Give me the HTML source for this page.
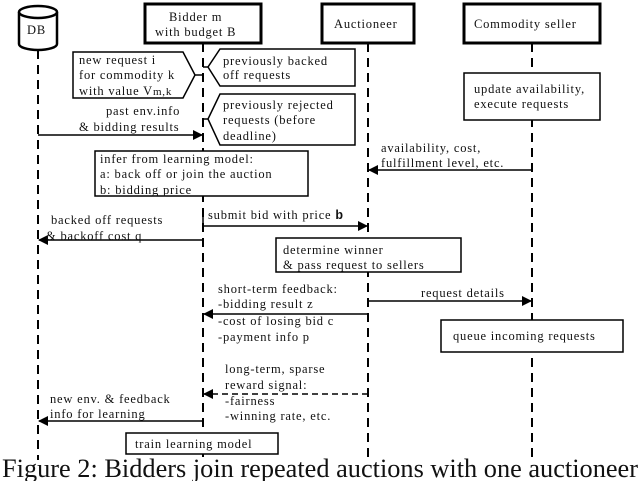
<!DOCTYPE html>
<html><head><meta charset="utf-8"><style>
body{margin:0;background:#fff}
svg text{font-family:"Liberation Serif",serif;font-size:12.5px;fill:#111;letter-spacing:0.8px}
</style></head><body>
<svg width="640" height="481" viewBox="0 0 640 481" xmlns="http://www.w3.org/2000/svg">
<defs><marker id="a" markerWidth="10" markerHeight="10" refX="9" refY="5" orient="auto" markerUnits="userSpaceOnUse"><path d="M0,0 L10,5 L0,10z" fill="#000"/></marker></defs>
<g stroke="#000" stroke-width="2" stroke-dasharray="9,6" fill="none">
<line x1="38" y1="50" x2="38" y2="460"/>
<line x1="203" y1="43" x2="203" y2="460"/>
<line x1="368" y1="43" x2="368" y2="460"/>
<line x1="532" y1="43" x2="532" y2="460"/>
</g>
<g fill="#fff" stroke="#000">
<path d="M19,12 L19,44 A19,6 0 0 0 57,44 L57,12" stroke-width="2.5"/>
<ellipse cx="38" cy="12" rx="19" ry="6" stroke-width="2.5"/>
<rect x="145" y="4" width="116" height="39" stroke-width="3"/>
<rect x="322" y="4" width="92" height="39" stroke-width="3"/>
<rect x="464" y="4" width="136" height="39" stroke-width="3"/>
<path d="M73,52 L183,52 L195,75 L183,98 L73,98z" stroke-width="1.5"/>
<path d="M220,49 L355,49 L355,86 L220,86 L208,67z" stroke-width="1.5"/>
<path d="M220,94 L355,94 L355,145 L220,145 L208,119z" stroke-width="1.5"/>
<rect x="464" y="73" width="136" height="47" stroke-width="1.5"/>
<rect x="95" y="151" width="213" height="45" stroke-width="1.5"/>
<rect x="276" y="238" width="185" height="34" stroke-width="1.5"/>
<rect x="441" y="320" width="182" height="32" stroke-width="1.5"/>
<rect x="126" y="433" width="152" height="21" stroke-width="1.5"/>
</g>
<g stroke="#000" stroke-width="1.5" fill="none">
<line x1="195" y1="75" x2="203" y2="75"/><line x1="203" y1="67" x2="208" y2="67"/>
<line x1="203" y1="119" x2="208" y2="119"/>
<line x1="38" y1="135" x2="202" y2="135" marker-end="url(#a)"/>
<line x1="532" y1="170" x2="369" y2="170" marker-end="url(#a)"/>
<path d="M203,210 L203,226 L367,226" marker-end="url(#a)"/>
<line x1="203" y1="240" x2="39" y2="240" marker-end="url(#a)"/>
<path d="M368,306 L368,301 L531,301" marker-end="url(#a)"/>
<line x1="368" y1="314" x2="204" y2="314" marker-end="url(#a)"/>
<line x1="368" y1="394" x2="204" y2="394" stroke-dasharray="6,4" marker-end="url(#a)"/>
<path d="M203,427 L203,421 L39,421" marker-end="url(#a)"/>
</g>
<text x="27" y="34">DB</text>
<text x="169" y="21">Bidder m</text>
<text x="155" y="36">with budget B</text>
<text x="334" y="28">Auctioneer</text>
<text x="474" y="28">Commodity seller</text>
<text x="79" y="64">new request i</text>
<text x="79" y="79">for commodity k</text>
<text x="79" y="95">with value V<tspan font-size="11">m,k</tspan></text>
<text x="223" y="65">previously backed</text>
<text x="223" y="79">off requests</text>
<text x="223" y="109">previously rejected</text>
<text x="223" y="124">requests (before</text>
<text x="223" y="140">deadline)</text>
<text x="106" y="115">past env.info</text>
<text x="79" y="131">&amp; bidding results</text>
<text x="474" y="93">update availability,</text>
<text x="474" y="108">execute requests</text>
<text x="381" y="152">availability, cost,</text>
<text x="381" y="167">fulfillment level, etc.</text>
<text x="100" y="163">infer from learning model:</text>
<text x="100" y="178">a: back off or join the auction</text>
<text x="100" y="194">b: bidding price</text>
<text x="208" y="219">submit bid with  price <tspan font-family="Liberation Sans" font-weight="bold">b</tspan></text>
<text x="51" y="224">backed off requests</text>
<text x="46" y="240">&amp; backoff cost q</text>
<text x="283" y="254">determine winner</text>
<text x="283" y="269">&amp; pass request to sellers</text>
<text x="218" y="293">short-term feedback:</text>
<text x="218" y="308">-bidding result z</text>
<text x="218" y="325">-cost of losing bid c</text>
<text x="218" y="341">-payment info p</text>
<text x="421" y="297">request details</text>
<text x="453" y="340">queue incoming requests</text>
<text x="225" y="373">long-term, sparse</text>
<text x="225" y="389">reward signal:</text>
<text x="225" y="405">-fairness</text>
<text x="225" y="420">-winning rate, etc.</text>
<text x="50" y="403">new env. &amp; feedback</text>
<text x="50" y="418">info for learning</text>
<text x="135" y="448">train learning model</text>
<text x="2" y="477" textLength="636" lengthAdjust="spacingAndGlyphs" style="font-size:26px;letter-spacing:0">Figure 2: Bidders join repeated auctions with one auctioneer</text>
</svg>
</body></html>
